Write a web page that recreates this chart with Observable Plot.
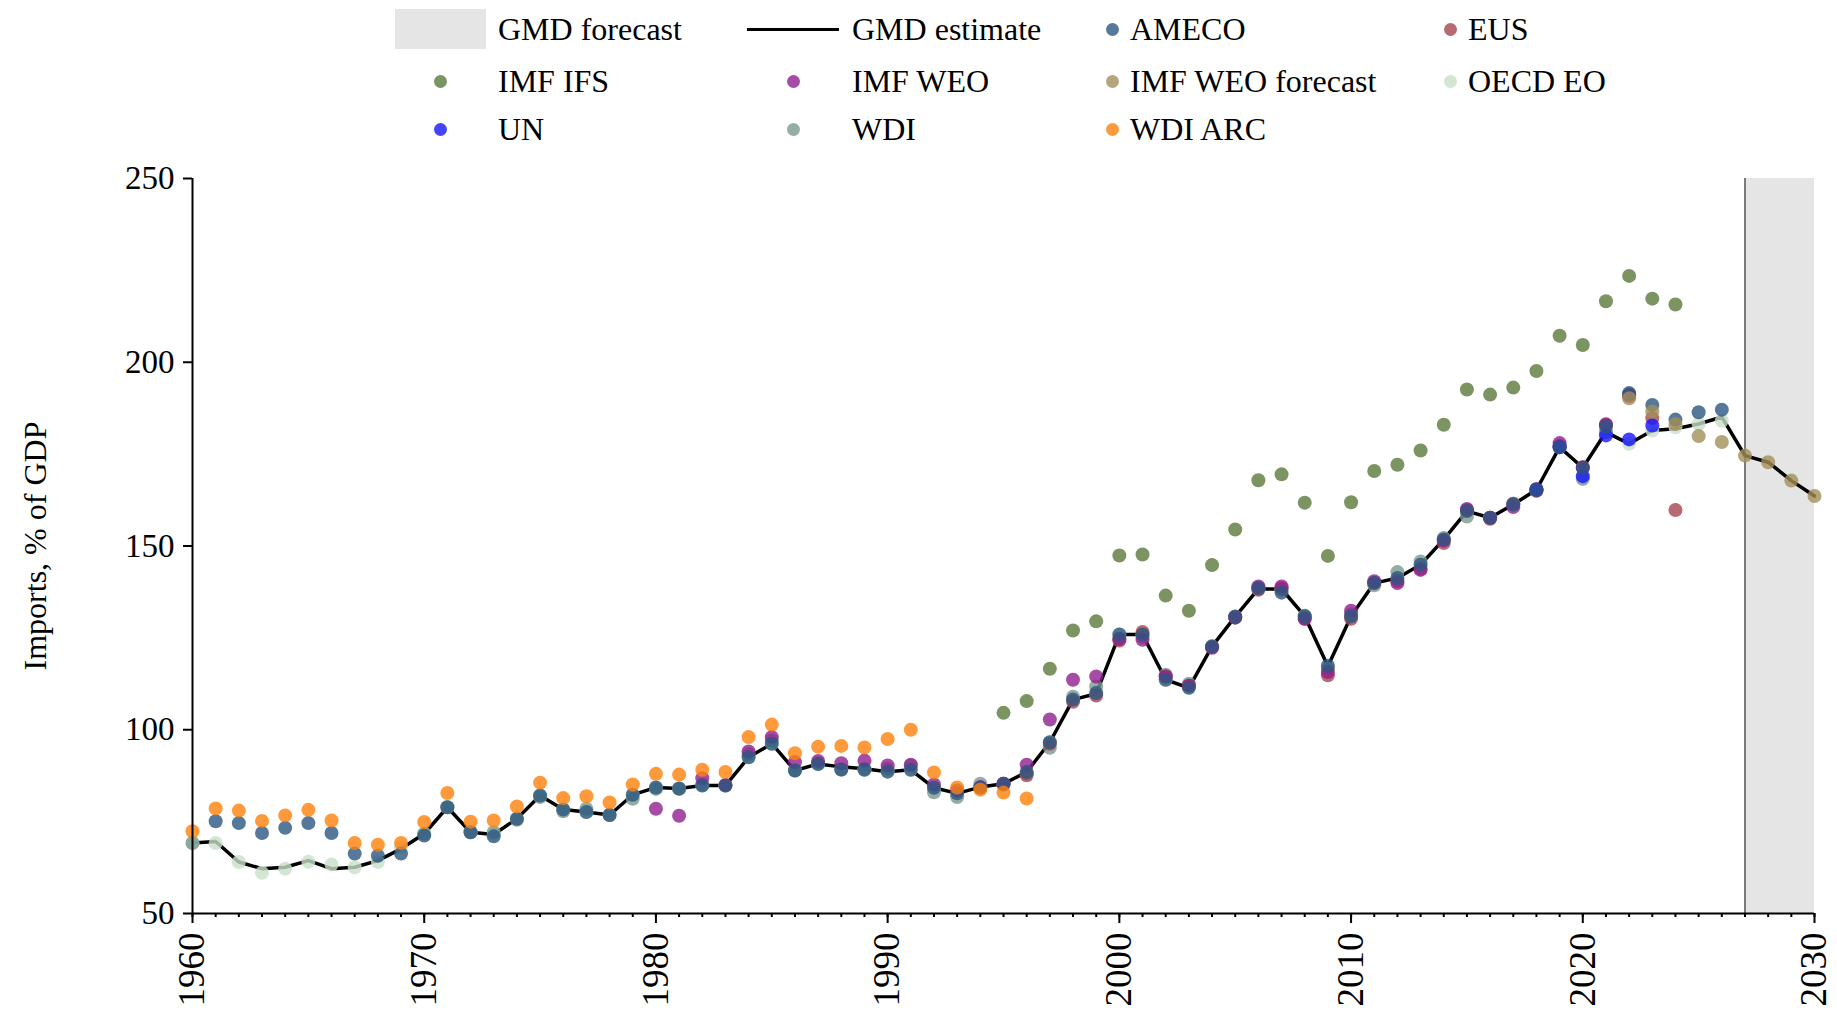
<!DOCTYPE html>
<html>
<head>
<meta charset="utf-8">
<script src="https://cdn.jsdelivr.net/npm/d3@7"></script>
<script src="https://cdn.jsdelivr.net/npm/@observablehq/plot@0.6"></script>
<style>
  html, body { margin: 0; padding: 0; background: #fff; }
  body { font-family: "Liberation Serif", "Times New Roman", serif; }
  #legend { position: relative; width: 1837px; height: 150px; font-size: 32px; color: #000; }
  .lab { position: absolute; height: 32px; line-height: 32px; white-space: nowrap; }
  .sym { position: absolute; }
  #chart svg text { font-family: "Liberation Serif", "Times New Roman", serif; }
</style>
</head>
<body>
<div id="legend"></div>
<div id="chart"></div>
<script>
// ---------------- DATA ----------------
const seriesNames = ["AMECO", "EUS", "IMF IFS", "IMF WEO", "IMF WEO forecast", "OECD EO", "UN", "WDI", "WDI ARC"];
const seriesColors = ["#2c5681", "#a6454f", "#5a793b", "#901f90", "#a28e59", "#c8e0c8", "#1515ff", "#7a9a8e", "#ff810b"];

const forecastStart = 2027;
const forecastEnd = 2030;

const gmdStart = 1960;
const gmdEstimate = [69.2, 69.6, 64.0, 62.2, 62.6, 64.4, 62.2, 62.6, 64.4, 67.6,
  71.7, 78.9, 72.1, 71.5, 75.8, 82.1, 78.3, 77.6, 76.8, 82.3,
  84.3, 84.0, 84.8, 84.8, 92.5, 96.2, 88.9, 90.7, 89.9, 89.4,
  88.6, 89.1, 84.2, 82.7, 84.4, 85.3, 88.5, 96.6, 108.2, 109.8,
  125.9, 125.9, 113.6, 111.4, 122.7, 130.8, 138.3, 138.3, 130.9, 117.3,
  130.9, 139.9, 141.3, 144.9, 151.8, 159.5, 157.7, 161.3, 165.3, 176.9,
  171.3, 181.0, 177.8, 181.4, 181.9, 183.2, 185.1, 174.6, 172.8, 167.8, 163.6];

const amecoStart = 1961;
const ameco = [75.1, 74.6, 71.9, 73.3, 74.6, 71.9, 66.3, 65.7, 66.3,
  71.2, 78.9, 72.1, 71.0, 75.8, 82.1, 78.3, 77.6, 76.8, 82.3,
  84.3, 84.0, 84.8, 84.8, 92.5, 96.2, 88.9, 90.7, 89.2, 89.1,
  88.6, 89.1, 84.2, 82.7, 84.2, 85.3, 88.5, 96.6, 108.2, 110.0,
  125.9, 125.9, 113.6, 111.4, 122.7, 130.8, 138.5, 137.3, 130.9, 117.4,
  130.9, 139.9, 141.3, 144.9, 151.8, 159.5, 157.7, 161.3, 165.3, 176.9,
  171.3, 182.5, 191.6, 188.4, 184.4, 186.4, 187.1];

const eusStart = 1995;
const eus = [85.3, 87.6, 96.2, 107.6, 109.3,
  124.3, 126.6, 114.5, 112.0, 122.5, 130.5, 138.1, 138.5, 130.2, 114.8,
  130.2, 140.0, 140.5, 143.8, 150.8, 159.8, 157.4, 161.5, 165.1, 177.3,
  171.5, 183.0, 190.8, 184.8, 159.8];

const ifsStart = 1995;
const imfIfs = [104.6, 107.8, 116.6, 127.0, 129.5,
  147.4, 147.7, 136.5, 132.4, 144.8, 154.5, 167.9, 169.5, 161.8, 147.3,
  161.9, 170.4, 172.1, 176.0, 183.0, 192.6, 191.2, 193.1, 197.6, 207.2,
  204.7, 216.6, 223.5, 217.3, 215.7];

const weoStart = 1980;
const imfWeo = [78.5, 76.6, 86.8, 85.0, 94.1, 98.0, 91.2, 91.5, 90.9, 91.6,
  90.3, 90.5, 85.1, 83.5, 84.4, 85.3, 90.5, 102.8, 113.6, 114.5,
  124.7, 124.5, 114.5, 112.0, 122.3, 130.6, 139.0, 139.0, 130.2, 115.7,
  132.4, 140.4, 139.9, 143.5, 151.5, 160.1, 157.7, 160.6, 165.5, 178.0,
  171.3, 183.1, 191.1];

const weoFcStart = 2022;
const imfWeoForecast = [190.2, 186.6, 183.2, 179.9, 178.3, 174.6, 172.8, 167.8, 163.6];

const oecdStart = 1960;
const oecdEo = [69.2, 69.2, 64.0, 61.1, 62.2, 64.1, 63.3, 62.6, 64.0, 68.0,
  71.7, 78.9, 72.1, 71.5, 75.8, 82.1, 78.3, 77.6, 76.8, 82.3,
  84.3, 84.0, 84.8, 84.8, 92.5, 96.2, 88.9, 90.7, 89.2, 89.1,
  88.6, 89.1, 84.2, 82.7, 84.4, 85.3, 88.5, 96.6, 108.2, 109.8,
  125.9, 125.9, 113.6, 111.4, 122.7, 130.8, 138.3, 138.3, 130.9, 116.6,
  130.9, 139.9, 141.3, 144.9, 151.8, 159.5, 157.7, 161.3, 165.3, 176.9,
  168.3, 181.0, 177.8, 181.4, 182.3, 183.2, 184.1];

const unStart = 2018;
const un = [165.3, 176.9, 169.0, 180.1, 179.0, 182.8];

const wdiYears = [1960, 1970, 1971, 1972, 1973, 1974, 1975, 1976, 1977, 1978, 1979,
  1980, 1981, 1982, 1983, 1984, 1985, 1986, 1987, 1988, 1989,
  1990, 1991, 1992, 1993, 1994, 1995, 1996, 1997, 1998, 1999,
  2000, 2001, 2002, 2003, 2004, 2005, 2006, 2007, 2008, 2009,
  2010, 2011, 2012, 2013, 2014, 2015, 2016, 2017, 2018, 2019,
  2020, 2021, 2022];
const wdi = [69.2, 71.7, 78.9, 72.1, 72.1, 75.5, 81.7, 77.8, 78.5, 76.8, 81.2,
  83.9, 83.9, 85.1, 84.8, 93.4, 97.1, 88.9, 90.9, 89.2, 89.4,
  89.4, 90.3, 83.0, 81.7, 85.3, 85.0, 88.0, 95.1, 109.0, 111.8,
  124.8, 125.2, 115.0, 112.5, 122.5, 130.5, 138.7, 138.1, 131.0, 116.6,
  131.4, 139.3, 142.9, 145.8, 152.2, 158.0, 157.7, 161.5, 165.0, 176.9,
  168.3, 181.0, 191.3];

const wdiArcStart = 1960;
const wdiArc = [72.4, 78.6, 78.0, 75.2, 76.7, 78.2, 75.3, 69.2, 68.7, 69.2,
  74.9, 82.8, 75.0, 75.3, 79.1, 85.6, 81.4, 81.9, 80.2, 85.1,
  88.0, 87.8, 89.1, 88.5, 98.0, 101.4, 93.6, 95.4, 95.6, 95.2,
  97.5, 100.0, 88.4, 84.3, 83.7, 82.9, 81.3];

const yTicks = [50, 100, 150, 200, 250];
const xMajorTicks = [1960, 1970, 1980, 1990, 2000, 2010, 2020, 2030];
const yLabel = "Imports, % of GDP";

// ---------------- BUILD ----------------
const serif = "'Liberation Serif', 'Times New Roman', serif";
const fromStart = (name, start, vals) => vals.map((v, i) => ({series: name, year: start + i, value: v}));
const fromYears = (name, years, vals) => vals.map((v, i) => ({series: name, year: years[i], value: v}));

const gmd = fromStart("GMD estimate", gmdStart, gmdEstimate);
// drawing order (bottom to top)
const points = [
  ...fromStart("OECD EO", oecdStart, oecdEo),
  ...fromYears("WDI", wdiYears, wdi),
  ...fromStart("EUS", eusStart, eus),
  ...fromStart("IMF WEO", weoStart, imfWeo),
  ...fromStart("UN", unStart, un),
  ...fromStart("AMECO", amecoStart, ameco),
  ...fromStart("IMF WEO forecast", weoFcStart, imfWeoForecast),
  ...fromStart("IMF IFS", ifsStart, imfIfs),
  ...fromStart("WDI ARC", wdiArcStart, wdiArc)
];
const minorTicks = d3.range(1960, 2031);

const chart = Plot.plot({
  width: 1837,
  height: 868,
  marginTop: 28,
  marginBottom: 105,
  marginLeft: 192,
  marginRight: 23,
  style: {fontFamily: serif, fontSize: "33px", background: "#fff", color: "#000"},
  x: {domain: [1960, 2030], axis: null},
  y: {domain: [50, 250], axis: null},
  color: {domain: seriesNames, range: seriesColors},
  marks: [
    Plot.rect([{x1: forecastStart, x2: forecastEnd}], {x1: "x1", x2: "x2", fill: "#e5e5e5"}),
    Plot.ruleX([forecastStart], {stroke: "#555", strokeWidth: 1.5}),
    Plot.line(gmd, {x: "year", y: "value", stroke: "#000", strokeWidth: 3.5}),
    Plot.dot(points, {x: "year", y: "value", fill: "series", r: 7, fillOpacity: 0.8}),
    Plot.ruleY([50], {stroke: "#000", strokeWidth: 2}),
    Plot.ruleX([1960], {stroke: "#000", strokeWidth: 2}),
    Plot.axisY({ticks: yTicks, tickSize: 9, tickPadding: 9, fontSize: 33, fontFamily: serif, strokeWidth: 2, label: null}),
    Plot.axisX({ticks: minorTicks, tickSize: 4, tickFormat: () => "", strokeWidth: 2, label: null}),
    Plot.axisX({ticks: xMajorTicks, tickSize: 10, tickPadding: 9, tickRotate: -90, fontSize: 37, fontFamily: serif, strokeWidth: 2, tickFormat: d => String(d), label: null}),
    Plot.text([yLabel], {frameAnchor: "left", dx: -157, rotate: -90, textAnchor: "middle", fontSize: 32, fontFamily: serif, fill: "#000"})
  ]
});
document.getElementById("chart").appendChild(chart);

// ---------------- LEGEND ----------------
const legendEntries = [
  {name: "GMD forecast", kind: "swatch", row: 0, col: 0},
  {name: "GMD estimate", kind: "line", row: 0, col: 1},
  {name: "AMECO", kind: "dot", row: 0, col: 2},
  {name: "EUS", kind: "dot", row: 0, col: 3},
  {name: "IMF IFS", kind: "dot", row: 1, col: 0},
  {name: "IMF WEO", kind: "dot", row: 1, col: 1},
  {name: "IMF WEO forecast", kind: "dot", row: 1, col: 2},
  {name: "OECD EO", kind: "dot", row: 1, col: 3},
  {name: "UN", kind: "dot", row: 2, col: 0},
  {name: "WDI", kind: "dot", row: 2, col: 1},
  {name: "WDI ARC", kind: "dot", row: 2, col: 2}
];
const rowY = [29, 81, 129];
const symX = [440, 793, 1112, 1450];
const textX = [498, 852, 1130, 1468];
const legend = document.getElementById("legend");
const colorOf = d3.scaleOrdinal(seriesNames, seriesColors);
for (const e of legendEntries) {
  const cy = rowY[e.row], cx = symX[e.col];
  const s = document.createElement("div");
  s.className = "sym";
  if (e.kind === "swatch") {
    Object.assign(s.style, {left: (cx - 45) + "px", top: (cy - 20) + "px", width: "91px", height: "40px", background: "#e5e5e5"});
  } else if (e.kind === "line") {
    Object.assign(s.style, {left: (cx - 46) + "px", top: (cy - 1.5) + "px", width: "92px", height: "3px", background: "#000"});
  } else {
    Object.assign(s.style, {left: (cx - 6.5) + "px", top: (cy - 6.5) + "px", width: "13px", height: "13px", borderRadius: "50%", background: colorOf(e.name), opacity: 0.8});
  }
  legend.appendChild(s);
  const t = document.createElement("div");
  t.className = "lab";
  t.textContent = e.name;
  Object.assign(t.style, {left: textX[e.col] + "px", top: (cy - 16) + "px"});
  legend.appendChild(t);
}
</script>
</body>
</html>
